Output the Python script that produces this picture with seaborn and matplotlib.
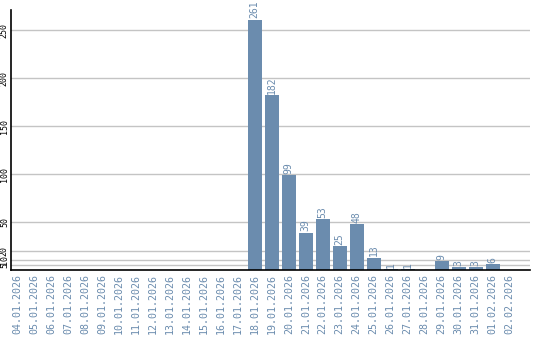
import matplotlib
matplotlib.use("Agg")
import matplotlib.pyplot as plt
import seaborn as sns
import pandas as pd

dates = ["04.01.2026", "05.01.2026", "06.01.2026", "07.01.2026", "08.01.2026",
         "09.01.2026", "10.01.2026", "11.01.2026", "12.01.2026", "13.01.2026",
         "14.01.2026", "15.01.2026", "16.01.2026", "17.01.2026", "18.01.2026",
         "19.01.2026", "20.01.2026", "21.01.2026", "22.01.2026", "23.01.2026",
         "24.01.2026", "25.01.2026", "26.01.2026", "27.01.2026", "28.01.2026",
         "29.01.2026", "30.01.2026", "31.01.2026", "01.02.2026", "02.02.2026"]
values = [0, 0, 0, 0, 0, 0, 0, 0, 0, 0, 0, 0, 0, 0, 261,
          182, 99, 39, 53, 25, 48, 13, 1, 1, 0, 9, 3, 3, 6, 0]
yticks = [5, 10, 20, 50, 100, 150, 200, 250]

sns.set_style("white")
plt.rcParams['font.family'] = ['DejaVu Sans Mono', 'DejaVu Sans']

df = pd.DataFrame({"date": dates, "value": values})
fig = plt.figure(figsize=(5.4, 3.4), dpi=100)
ax = fig.add_axes([11/540, 70/340, 519/540, 260/340])

bar_color = "#6b8cae"
sns.barplot(data=df, x="date", y="value", color=bar_color, width=0.82,
            saturation=1, ax=ax, zorder=3, linewidth=0)

ax.set_ylim(0, 271)
ax.set_xlim(-0.35, 30.2)
ax.set_yticks(yticks)
ax.set_yticklabels([str(t) for t in yticks], rotation=90, fontsize=6,
                   va="center", color="black")
ax.yaxis.grid(True, color="#c4c4c4", linewidth=1, zorder=0)
ax.set_axisbelow(True)
ax.tick_params(axis="y", length=0, pad=1.5)
ax.tick_params(axis="x", length=0, pad=3)
ax.set_xticks(range(len(dates)))
ax.set_xticklabels(dates, rotation=90, fontsize=7.2, color="#6b8cae")
ax.set_xlabel("")
ax.set_ylabel("")
for s in ["top", "right"]:
    ax.spines[s].set_visible(False)
for s in ["left", "bottom"]:
    ax.spines[s].set_visible(True)
    ax.spines[s].set_color("black")
    ax.spines[s].set_linewidth(1.2)
    ax.spines[s].set_zorder(5)

for i, v in enumerate(values):
    if v > 0:
        ax.text(i, v + 1.5, str(v), rotation=90, ha="center", va="bottom",
                fontsize=7, color="#6b8cae", zorder=4)

fig.savefig("out.png", dpi=100)
